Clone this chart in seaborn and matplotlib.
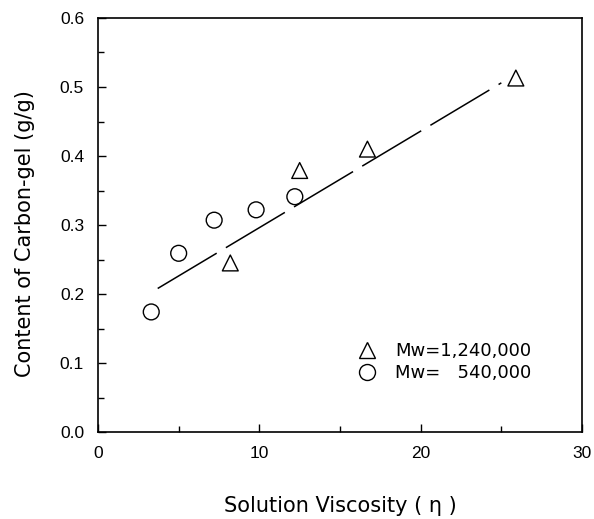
import matplotlib
matplotlib.use("Agg")
import matplotlib.pyplot as plt
import seaborn as sns
import pandas as pd
from matplotlib.lines import Line2D

# Data
tri_x = [8.2, 12.5, 16.7, 25.9]
tri_y = [0.245, 0.379, 0.410, 0.513]
circ_x = [3.3, 5.0, 7.2, 9.8, 12.2]
circ_y = [0.174, 0.259, 0.307, 0.322, 0.341]
fit_x = [3.7, 25.0]
fit_y = [0.208, 0.506]
legend_labels = ["Mw=1,240,000", "Mw=   540,000"]

sns.set_theme(style="ticks")
plt.rcParams['font.family'] = ['Liberation Sans', 'DejaVu Sans']

df = pd.DataFrame({
    "x": tri_x + circ_x,
    "y": tri_y + circ_y,
    "series": [legend_labels[0]] * len(tri_x) + [legend_labels[1]] * len(circ_x),
})

W, H = 594, 519
fig = plt.figure(figsize=(W / 100, H / 100), dpi=100)
L, R, T, B = 98, 582, 18, 432
ax = fig.add_axes([L / W, (H - B) / H, (R - L) / W, (B - T) / H])

sns.lineplot(x=fit_x, y=fit_y, ax=ax, color="black", lw=1.1, dashes=False)
ax.lines[-1].set_dashes((45, 7))

sns.scatterplot(data=df, x="x", y="y", style="series",
                markers={legend_labels[0]: "^", legend_labels[1]: "o"},
                s=130, facecolor="white", edgecolor="black", linewidth=1.0,
                ax=ax, legend=False, zorder=3)

ax.set_xlim(0, 30)
ax.set_ylim(0, 0.6)
ax.set_xticks([0, 10, 20, 30])
ax.set_xticks([5, 15, 25], minor=True)
ax.set_yticks([0.0, 0.1, 0.2, 0.3, 0.4, 0.5, 0.6])
ax.set_yticks([0.05, 0.15, 0.25, 0.35, 0.45, 0.55], minor=True)
ax.set_yticklabels(["0.0", "0.1", "0.2", "0.3", "0.4", "0.5", "0.6"])
ax.tick_params(which="both", direction="in", labelsize=12.5, color="black",
               labelcolor="black")
ax.tick_params(axis="x", which="major", pad=10)
ax.tick_params(axis="y", which="major", pad=10)
ax.tick_params(which="major", length=6, width=1)
ax.tick_params(which="minor", length=4, width=1)
for sp in ax.spines.values():
    sp.set_visible(True)
    sp.set_color("black")
    sp.set_linewidth(1.2)

ax.set_xlabel("Solution Viscosity ( η )", fontsize=15, color="black",
              va="center", family=["DejaVu Sans"])
ax.xaxis.set_label_coords(0.5, (B - 505.5) / (B - T))
ax.set_ylabel("Content of Carbon-gel (g/g)", fontsize=15, color="black",
              va="center", family=["DejaVu Sans"])
ax.yaxis.set_label_coords((25 - L) / (R - L), (B - 234) / (B - T))

handles = [
    Line2D([], [], marker="^", ls="none", markersize=11.5, markerfacecolor="white",
           markeredgecolor="black", markeredgewidth=1.0),
    Line2D([], [], marker="o", ls="none", markersize=11.5, markerfacecolor="white",
           markeredgecolor="black", markeredgewidth=1.0),
]
ax.legend(handles, legend_labels, loc="upper left",
          bbox_to_anchor=(351 / W, 1 - 335 / H), bbox_transform=fig.transFigure,
          frameon=False, prop={"family": "DejaVu Sans", "size": 13},
          labelcolor="black",
          handletextpad=1.05, labelspacing=0.2, handlelength=1.0,
          borderaxespad=0.0)

fig.savefig("out.png", dpi=100)
